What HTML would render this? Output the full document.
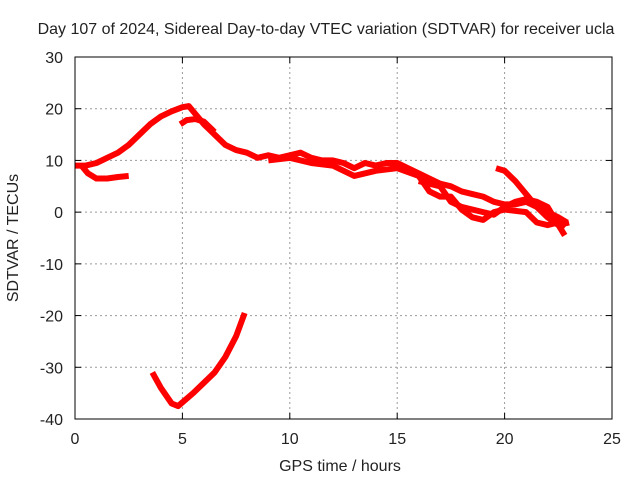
<!DOCTYPE html>
<html><head><meta charset="utf-8"><style>
body{margin:0;background:#fff;}
svg text{font-family:"Liberation Sans",sans-serif;font-size:16px;fill:#222;}
</style></head><body>
<svg id="chart" width="640" height="480">
<rect width="640" height="480" fill="#fff"/>
<text x="326" y="34" text-anchor="middle">Day 107 of 2024, Sidereal Day-to-day VTEC variation (SDTVAR) for receiver ucla</text>
<text x="340" y="471" text-anchor="middle">GPS time / hours</text>
<text transform="translate(18,238) rotate(-90)" text-anchor="middle">SDTVAR / TECUs</text>
<g id="grid"></g><g id="series"></g><g id="axes"></g>
</svg>
<script>
const xTicks=[0,5,10,15,20,25];
const yTicks=[30,20,10,0,-10,-20,-30,-40];
const seriesMain=[[0,9],[0.5,9],[1,9.5],[1.5,10.5],[2,11.5],[2.5,13],[3,15],[3.5,17],[4,18.5],[4.5,19.5],[5,20.3],[5.3,20.5],[5.6,19],[6,17],[6.5,15],[7,13],[7.5,12],[8,11.5],[8.5,10.5],[9,11],[9.5,10.5],[10,11],[10.5,11.5],[11,10.5],[11.5,10],[12,10],[12.5,9.5],[13,8.5],[13.5,9.5],[14,9],[14.5,9.5],[15,9.5],[15.5,8.5],[16,7.5],[16.5,6.5],[17,5.5],[17.5,5],[18,4],[18.5,3.5],[19,3],[19.5,2],[20,1.5],[20.5,1.5],[21,2],[21.5,1],[22,0],[22.5,-1],[22.9,-2]];
const seriesLoop=[[0.3,9],[0.6,7.5],[1,6.5],[1.5,6.5],[2,6.8],[2.5,7]];
const seriesNoon=[[4.9,17],[5.2,17.8],[5.6,18],[6,17.5],[6.5,15.5]];
const seriesLow=[[3.6,-31],[4,-34],[4.5,-37],[4.8,-37.5],[5.5,-35],[6,-33],[6.5,-31],[7,-28],[7.5,-24],[7.9,-19.5]];
const seriesE=[[9,10],[10,10.5],[11,9.5],[12,9],[13,7],[14,8],[15,8.5],[16,7],[16.5,4],[17,3],[17.5,3],[18,0.5],[18.5,-1],[19,-1.5],[19.5,0],[20,0.5],[21,0],[21.5,-2],[22,-2.5],[22.5,-2],[22.8,-3]];
const seriesF=[[16,6],[17,5],[17.5,2],[18,1],[18.5,0.5],[19,0],[19.5,-0.5],[20,1],[20.5,2],[21,2.5],[21.5,2],[22,1],[22.8,-4.5]];
const seriesG=[[19.6,8.5],[20,8],[20.5,6],[21,3.5],[21.5,1],[22,-1],[22.5,-2.5],[23,-2]];
const allSeries=[seriesMain,seriesLoop,seriesNoon,seriesLow,seriesE,seriesF,seriesG];
const X0=75,X1=612,Y0=57,Y1=419;
const sx=v=>X0+(v-0)/25*(X1-X0);
const sy=v=>Y0+(30-v)/70*(Y1-Y0);
const NS="http://www.w3.org/2000/svg";
function mk(t,a,p){const e=document.createElementNS(NS,t);for(const k in a)e.setAttribute(k,a[k]);p.appendChild(e);return e;}
const grid=document.getElementById('grid'),axes=document.getElementById('axes'),ser=document.getElementById('series');
xTicks.forEach(t=>{
 if(t>0&&t<25){const l=mk('line',{x1:sx(t),x2:sx(t),y1:Y0,y2:Y1,stroke:'#999','stroke-dasharray':'2,3'},grid);
 }
 const tx=mk('text',{x:sx(t),y:Y1+25,'text-anchor':'middle'},axes);tx.textContent=t;
 
 mk('line',{x1:sx(t),x2:sx(t),y1:Y1,y2:Y1-6,stroke:'#000'},axes);
 mk('line',{x1:sx(t),x2:sx(t),y1:Y0,y2:Y0+6,stroke:'#000'},axes);
});
yTicks.forEach(t=>{
 if(t<30&&t>-40){const l=mk('line',{x1:X0,x2:X1,y1:sy(t),y2:sy(t),stroke:'#999','stroke-dasharray':'2,3'},grid);
 }
 const tx=mk('text',{x:X0-12,y:sy(t)+6,'text-anchor':'end'},axes);tx.textContent=t;
 
 mk('line',{x1:X0,x2:X0+6,y1:sy(t),y2:sy(t),stroke:'#000'},axes);
 mk('line',{x1:X1,x2:X1-6,y1:sy(t),y2:sy(t),stroke:'#000'},axes);
});
const fr=mk('rect',{x:X0,y:Y0,width:X1-X0,height:Y1-Y0,fill:'none',stroke:'#000'},axes);

allSeries.forEach(s=>{
 const p=mk('polyline',{points:s.map(d=>sx(d[0])+','+sy(d[1])).join(' '),fill:'none',stroke:'#f00','stroke-width':6,'stroke-linejoin':'round'},ser);
 
});
</script>
</body></html>
